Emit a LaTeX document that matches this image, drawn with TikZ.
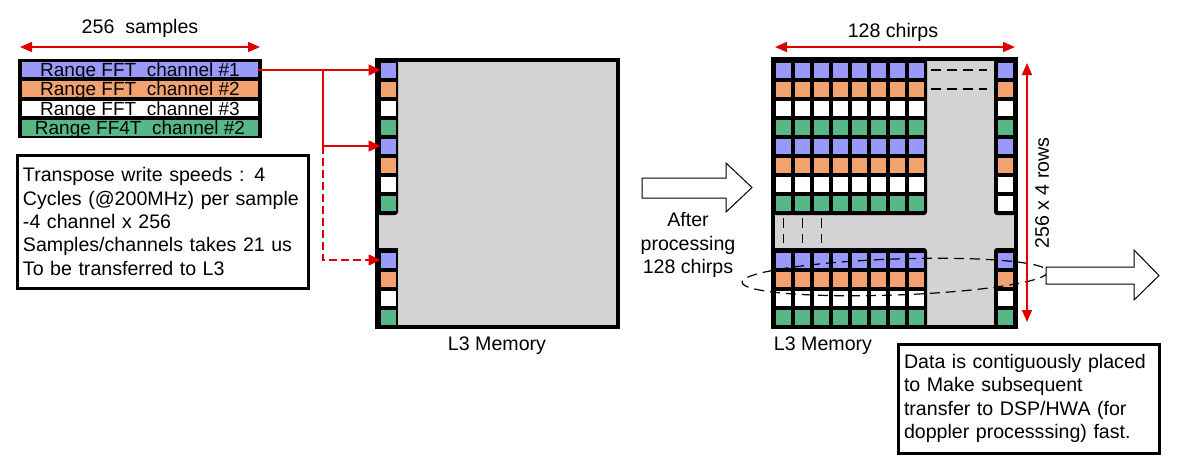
\documentclass[tikz,border=0pt]{standalone}
\usepackage{fontspec}
\setmainfont{Liberation Sans}
\usetikzlibrary{arrows.meta}

\definecolor{chpurple}{RGB}{153,153,250}
\definecolor{chorange}{RGB}{242,162,110}
\definecolor{chgreen}{RGB}{88,183,134}
\definecolor{memgray}{RGB}{211,211,211}
\definecolor{arrowred}{RGB}{222,0,0}

\tikzset{
  cellbox/.style={minimum size=7.5pt, inner sep=0pt, outer sep=0pt},
  barbox/.style={minimum width=118pt, minimum height=7.75pt, inner sep=0pt, text height=6.5pt, text depth=0pt, font=\fontsize{9.5}{11}\selectfont},
  redline/.style={color=arrowred, line width=0.8pt},
  redtip/.style={-{Triangle[length=6pt,width=5.5pt]}},
  dimtip/.style={{Triangle[length=6pt,width=5pt]}-{Triangle[length=6pt,width=5pt]}},
  dashline/.style={line width=0.6pt, dash pattern={on 5pt off 3pt}},
  notebox/.style={draw, line width=1.5pt, inner xsep=3pt, align=left}
}

\begin{document}
\begin{tikzpicture}[x=0.5pt,y=0.5pt,yscale=-1,xscale=1,font=\fontsize{9.8}{11.7}\selectfont]
\useasboundingbox (0,0) rectangle (1179,473);
% input channels
\node (samples) at (140,28) {256\ \ samples};
\coordinate (smpl) at (20,47); \coordinate (smpr) at (260,47);
\draw [redline, dimtip] (smpl) -- (smpr);
\fill (18,59) rectangle (262,138);
\node [barbox, fill=chpurple] (ch1) at (140,69.5) {Range FFT\ \ channel \#1};
\node [barbox, fill=chorange] (ch2) at (140,89) {Range FFT\ \ channel \#2};
\node [barbox, fill=white] (ch3) at (140,108.5) {Range FFT\ \ channel \#3};
\node [barbox, fill=chgreen] (ch4) at (140,128) {Range FF4T\ \ channel \#2};
\node [notebox, minimum width=145.5pt, minimum height=66.5pt, text width=139.5pt] (note) at (162.5,221.5)
  {Transpose write speeds : 4\\Cycles (@200MHz) per sample\\-4 channel x 256\\Samples/channels takes 21 us\\To be transferred to L3};
% L3 memory while writing
\filldraw [fill=memgray, line width=2pt] (377,60) rectangle (618,327);
\fill [rounded corners=1.5pt] (377,60) rectangle (398,215);
\fill (377,248) rectangle (398,327);
\foreach \k/\c in {0/chpurple,1/chorange,2/white,3/chgreen,4/chpurple,5/chorange,6/white,7/chgreen}
  \node [cellbox, fill=\c] (l\k) at (388,{70+19*\k}) {};
\foreach \k/\c in {0/chpurple,1/chorange,2/white,3/chgreen}
  \node [cellbox, fill=\c] (b\k) at (388,{260+19*\k}) {};
\node (memleft) at (497,346) {L3 Memory};
\coordinate (split) at (323,70);
\draw [redline, redtip] (ch1.east |- l0.west) -- (l0.west);
\draw [redline, redtip] (split) |- (l4.west);
\coordinate (dashtop) at (split |- l4.west);
\draw [redline, redtip, dash pattern={on 4pt off 2pt}] (dashtop) |- (b0.west);
% processing arrow
\draw [line width=0.5pt, fill=white] (642,178) -- (726,178) -- (726,163) -- (752,187.5) -- (726,212) -- (726,198) -- (642,198) -- cycle;
\node [align=center] (after) at (688,245) {After\\processing\\128 chirps};
% L3 memory after 128 chirps
\node (chirps) at (893,32) {128 chirps};
\coordinate (chl) at (775,47); \coordinate (chr) at (1015,47);
\draw [redline, dimtip] (chl) -- (chr);
\filldraw [fill=memgray, line width=2pt] (773,59) rectangle (1016,327);
\fill [rounded corners=1.5pt] (773,59) rectangle (927,215);
\fill [rounded corners=1.5pt] (773,248) rectangle (927,327);
\fill [rounded corners=1.5pt] (994,59) rectangle (1016,215);
\fill [rounded corners=1.5pt] (994,248) rectangle (1016,327);
\foreach \k/\c in {0/chpurple,1/chorange,2/white,3/chgreen,4/chpurple,5/chorange,6/white,7/chgreen}
  \foreach \i in {0,...,7}
    \node [cellbox, fill=\c] (r\k-\i) at ({783.5+19*\i},{70+19*\k}) {};
\foreach \k/\c in {0/chpurple,1/chorange,2/white,3/chgreen,4/chpurple,5/chorange,6/white,7/white}
  \node [cellbox, fill=\c] (rc\k) at (1005,{70+19*\k}) {};
\foreach \k/\c in {0/chpurple,1/chorange,2/white,3/chgreen}
  \foreach \i in {0,...,7}
    \node [cellbox, fill=\c] (rb\k-\i) at ({783.5+19*\i},{260+19*\k}) {};
\foreach \k/\c in {0/chpurple,1/chorange,2/white,3/chgreen}
  \node [cellbox, fill=\c] (rbc\k) at (1005,{260+19*\k}) {};
\draw [dashline] (931,70) -- (987,70);
\draw [dashline] (931,89) -- (987,89);
\foreach \i in {0,1,2}
  \draw [dashline] ({783.5+19*\i},218) -- ({783.5+19*\i},243);
\draw [dashline] (895,277) ellipse [x radius=153, y radius=18, rotate=-2];
\node (memright) at (823,346) {L3 Memory};
\coordinate (rowtop) at (1027,63); \coordinate (rowbot) at (1027,322);
\draw [redline, dimtip] (rowtop) -- (rowbot);
\node [rotate=90] (rows) at (1042,193) {256 x 4 rows};
% out to DSP/HWA
\draw [line width=0.5pt, fill=white] (1046,267) -- (1134,267) -- (1134,250) -- (1159,275.5) -- (1134,300) -- (1134,284) -- (1046,284) -- cycle;
\node [notebox, minimum width=130.5pt, minimum height=54.5pt, text width=124.5pt] (data) at (1028.5,398.5)
  {Data is contiguously placed\\to Make subsequent\\transfer to DSP/HWA (for\\doppler processsing) fast.};
\end{tikzpicture}
\end{document}
